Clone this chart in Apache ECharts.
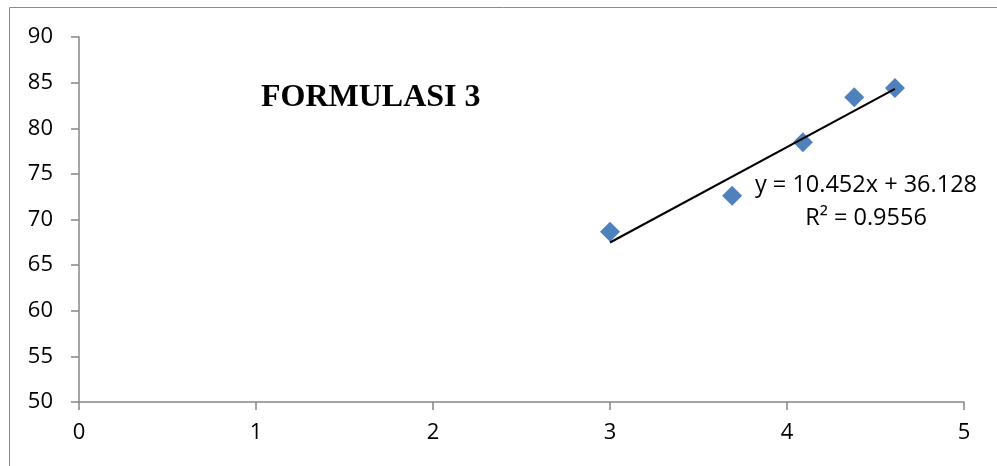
<!DOCTYPE html>
<html>
<head>
<meta charset="utf-8">
<script src="https://cdn.jsdelivr.net/npm/echarts@6/dist/echarts.min.js"></script>
<style>
html,body{margin:0;padding:0;background:#fff;}
#chart{width:997px;height:466px;}
</style>
</head>
<body>
<div id="chart"></div>
<script>
// Data
var xValues = [3.00, 3.69, 4.09, 4.38, 4.61];
var yValues = [68.66, 72.61, 78.46, 83.39, 84.41];
// Trendline endpoints (from the displayed equation y = 10.452x + 36.128)
var trendX = [3.00, 4.61];
var trendY = [67.48, 84.31];
var titleText = 'FORMULASI 3';
var equationText = 'y = 10.452x + 36.128';
var r2Text = 'R² = 0.9556';
var xTicks = [0, 1, 2, 3, 4, 5];
var yTicks = [50, 55, 60, 65, 70, 75, 80, 85, 90];

var points = xValues.map(function (x, i) { return [x, yValues[i]]; });
var trend = trendX.map(function (x, i) { return [x, trendY[i]]; });

var chart = echarts.init(document.getElementById('chart'));
var axisColor = '#868686';
var labelFont = '"Open Sans", sans-serif';
chart.setOption({
  animation: false,
  backgroundColor: '#ffffff',
  grid: { left: 79, right: 33, top: 37, bottom: 64, containLabel: false },
  xAxis: {
    type: 'value',
    min: xTicks[0], max: xTicks[xTicks.length - 1], interval: 1,
    axisLine: { show: true, lineStyle: { color: axisColor, width: 1.5 } },
    axisTick: { show: true, length: 8, inside: false, lineStyle: { color: axisColor, width: 1.5 } },
    splitLine: { show: false },
    axisLabel: { color: '#000', fontSize: 22, fontFamily: labelFont, margin: 20 }
  },
  yAxis: {
    type: 'value',
    min: yTicks[0], max: yTicks[yTicks.length - 1], interval: 5,
    axisLine: { show: true, lineStyle: { color: axisColor, width: 1.5 } },
    axisTick: { show: true, length: 8, inside: false, lineStyle: { color: axisColor, width: 1.5 } },
    splitLine: { show: false },
    axisLabel: { color: '#000', fontSize: 22, fontFamily: labelFont, margin: 26 }
  },
  graphic: [
    { type: 'rect', silent: true, z: -1,
      shape: { x: 9.5, y: 7.5, width: 1200, height: 1000 },
      style: { fill: 'none', stroke: '#8c8c8c', lineWidth: 1 } },
    { type: 'text', left: 261, top: 82,
      style: { text: titleText, font: 'bold 32px "Liberation Serif", "Times New Roman", serif', fill: '#000' } },
    { type: 'text', x: 866, y: 185,
      style: { text: equationText, font: '23.5px "Open Sans", sans-serif', fill: '#000', textAlign: 'center', textVerticalAlign: 'middle' } },
    { type: 'text', x: 866, y: 218,
      style: { text: r2Text, font: '23.5px "Open Sans", sans-serif', fill: '#000', textAlign: 'center', textVerticalAlign: 'middle' } }
  ],
  series: [
    {
      type: 'line',
      data: trend,
      showSymbol: false,
      symbol: 'none',
      lineStyle: { color: '#000', width: 2 },
      z: 3
    },
    {
      type: 'scatter',
      data: points,
      symbol: 'diamond',
      symbolSize: [20, 20],
      itemStyle: { color: '#4F81BD', opacity: 1 },
      z: 2
    }
  ]
});
</script>
</body>
</html>
